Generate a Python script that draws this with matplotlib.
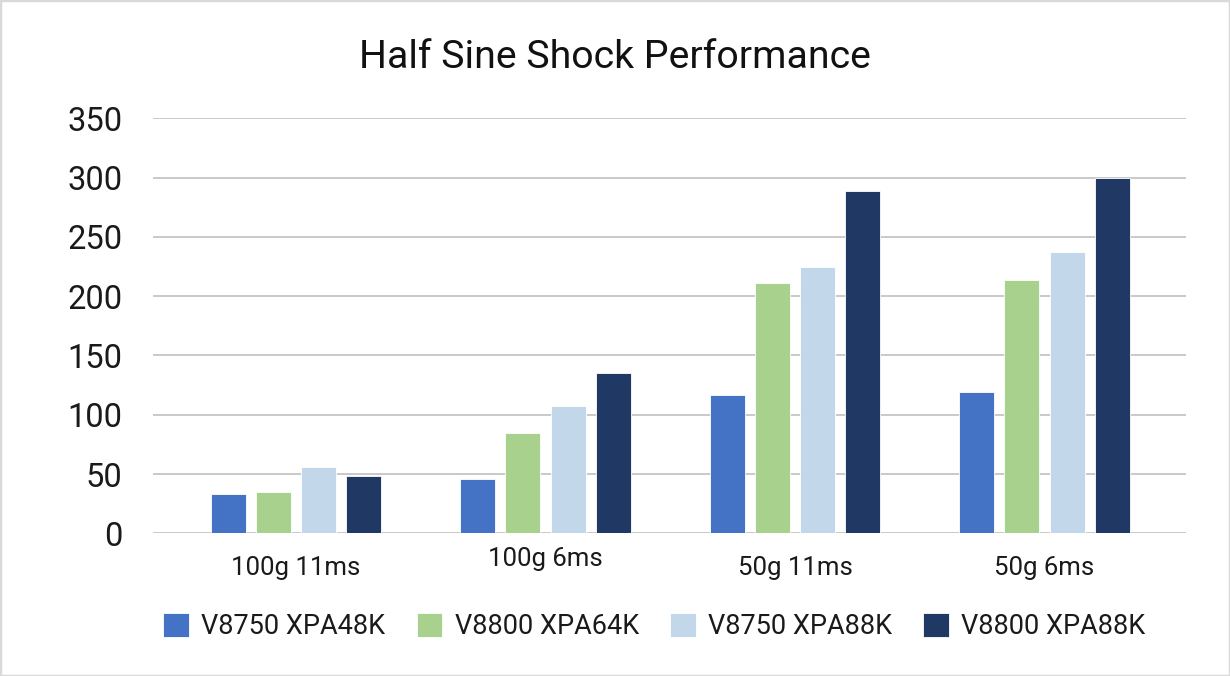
import matplotlib
matplotlib.use("Agg")
import matplotlib.pyplot as plt
import matplotlib.transforms as mtransforms
from matplotlib.patches import Rectangle
import numpy as np

categories = ["100g 11ms", "100g 6ms", "50g 11ms", "50g 6ms"]
series_names = ["V8750 XPA48K", "V8800 XPA64K", "V8750 XPA88K", "V8800 XPA88K"]
v8750_xpa48k = [33, 46, 117, 119]
v8800_xpa64k = [35, 85, 211, 214]
v8750_xpa88k = [56, 107, 225, 237]
v8800_xpa88k = [48, 135, 289, 300]
yticks = [0, 50, 100, 150, 200, 250, 300, 350]

colors = ["#4472C4", "#A9D18E", "#C3D7EB", "#203864"]
series = [v8750_xpa48k, v8800_xpa64k, v8750_xpa88k, v8800_xpa88k]

plt.rcParams['font.family'] = ['Roboto', 'DejaVu Sans']

fig = plt.figure(figsize=(12.3, 6.76), dpi=100)
fig.patch.set_facecolor("white")
fig.patches.append(Rectangle((0, 0), 1, 1, transform=fig.transFigure,
                             fill=False, edgecolor="#D9D9D9", linewidth=2.5))

ax = fig.add_axes([0.1244, 0.2111, 0.8398, 0.6139])
x = np.arange(len(categories))
width = 0.140
step = 0.181
for i, (vals, c, name) in enumerate(zip(series, colors, series_names)):
    ax.bar(x + (i - 1.5) * step, vals, width, color=c, label=name,
           edgecolor="white", linewidth=0.6, zorder=3)

ax.set_ylim(0, 350)
ax.set_xlim(-0.573, 3.567)
ax.set_yticks(yticks)
ax.set_yticklabels([str(t) for t in yticks], fontsize=23.5, color="#1a1a1a")
ax.set_xticks(x)
ax.set_xticklabels(categories, fontsize=18.5, color="#1a1a1a")
ax.tick_params(axis="y", length=0, pad=22)
ax.tick_params(axis="x", length=0, pad=16)
ax.grid(axis="y", color="#C9C9C9", linewidth=1.4, zorder=0)
for s in ax.spines.values():
    s.set_visible(False)

# second label sits slightly higher in reference
lbl = ax.get_xticklabels()[1]
lbl.set_transform(lbl.get_transform() + mtransforms.ScaledTranslation(0, 6 / 72, fig.dpi_scale_trans))

fig.text(0.5, 0.915, "Half Sine Shock Performance", ha="center", va="center",
         fontsize=28.3, color="#111111")

leg = fig.legend(loc="center", bbox_to_anchor=(0.532, 0.073), ncol=4, frameon=False,
                 fontsize=19.5, handlelength=0.95, handleheight=0.95,
                 handletextpad=0.45, columnspacing=1.15)
for t in leg.get_texts():
    t.set_color("#1a1a1a")

fig.savefig("out.png", dpi=100, facecolor="white")
